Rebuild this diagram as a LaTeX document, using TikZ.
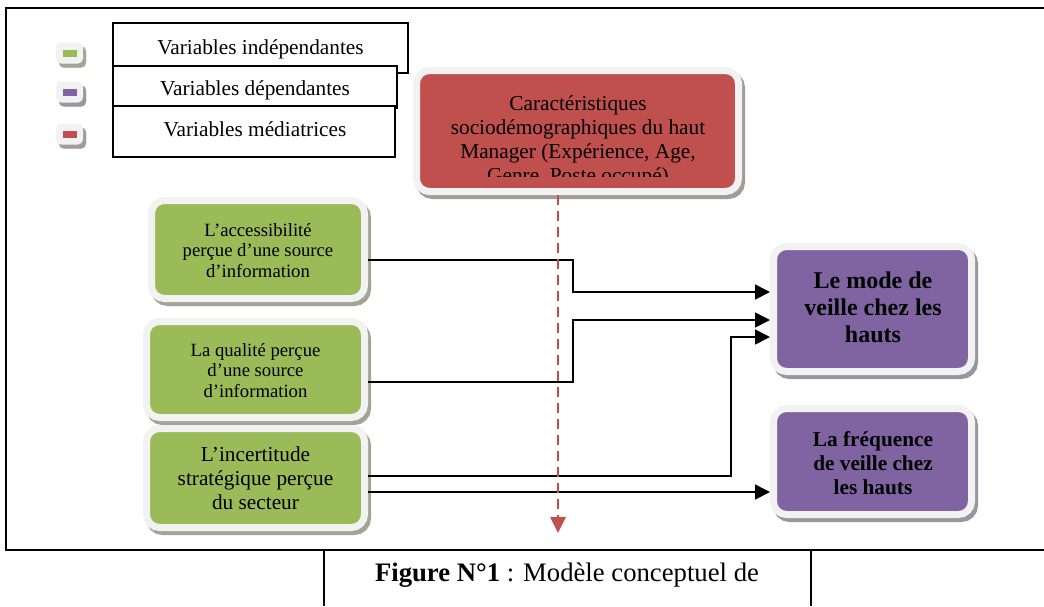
\documentclass[tikz,border=0pt]{standalone}
\usepackage{fontspec}
\setmainfont{Liberation Serif}
\usetikzlibrary{arrows.meta}
\definecolor{vgreen}{HTML}{9BBB59}
\definecolor{vpurple}{HTML}{8064A2}
\definecolor{vred}{HTML}{C0504D}
\definecolor{rim}{HTML}{F2F2F2}
\definecolor{shG}{HTML}{A2A595}
\definecolor{shP}{HTML}{9A96A0}
\definecolor{shR}{HTML}{A39A9A}
\tikzset{
  card/.style={draw=rim, line width=7pt, fill=#1, rounded corners=13pt, inner sep=0pt},
  shadowed/.style={preaction={draw=#1, fill=#1, transform canvas={shift={(3pt,-4pt)}}}},
  icon/.style={fill=rim, rounded corners=5pt, minimum width=27pt, minimum height=21pt, inner sep=0pt},
  iconc/.style={fill=#1, minimum width=14pt, minimum height=7pt, inner sep=0pt},
  legbox/.style={draw=black, line width=1.6pt, fill=white, inner sep=0pt},
  bigtxt/.style={font=\fontsize{21.3}{24}\selectfont, align=center, inner sep=0pt},
  captxt/.style={font=\fontsize{26.7}{30}\selectfont, align=center, inner sep=0pt},
  smalltxt/.style={font=\fontsize{18.7}{20.5}\selectfont, align=center, inner sep=0pt},
  boldtxt/.style={font=\bfseries\fontsize{24}{27}\selectfont, align=center, inner sep=0pt},
  boldmid/.style={font=\bfseries\fontsize{21.3}{24}\selectfont, align=center, inner sep=0pt},
  arr/.style={draw=black, line width=1.6pt, -{Triangle[length=15pt,width=15pt]}},
  redarr/.style={draw=vred, line width=2.6pt, dash pattern=on 10pt off 6pt, -{Triangle[length=16pt,width=15pt]}},
  frame/.style={draw=black, line width=2pt}
}
\begin{document}
\begin{tikzpicture}[x=1pt,y=-1pt]
\useasboundingbox (0,0) rectangle (1044,606);
% outer frame
\draw[frame] (1044,8) -- (6,8) -- (6,550) -- (1044,550);
% caption box
\draw[frame] (324,550) -- (324,606);
\draw[frame] (811,550) -- (811,606);
\node[captxt, anchor=base] (cap) at (567,581) {\textbf{Figure N°1} : Modèle conceptuel de};

% legend icons
\node[icon, shadowed=shG] (ic1) at (69.5,53) {};
\node[iconc=vgreen] (ic1c) at (ic1.center) {};
\node[icon, shadowed=shP] (ic2) at (69.5,92) {};
\node[iconc=vpurple] (ic2c) at (ic2.center) {};
\node[icon, shadowed=shR] (ic3) at (69.5,134) {};
\node[iconc=vred] (ic3c) at (ic3.center) {};

% legend boxes
\node[legbox, minimum width=295pt, minimum height=50pt] (l1) at (260.5,48) {};
\node[bigtxt, anchor=base] (l1t) at (260.5,54) {Variables indépendantes};
\node[legbox, minimum width=284pt, minimum height=42pt] (l2) at (255,87) {};
\node[bigtxt, anchor=base] (l2t) at (255,95) {Variables dépendantes};
\node[legbox, minimum width=282pt, minimum height=51pt] (l3) at (254,131.5) {};
\node[bigtxt, anchor=base] (l3t) at (255,136) {Variables médiatrices};

% red box
\node[card=vred, shadowed=shR, minimum width=322pt, minimum height=121pt] (red) at (577.5,131) {};
\begin{scope}
\clip (413,60) rectangle (745,176);
\node[bigtxt] (redt) at (578,141) {Caractéristiques\\sociodémographiques du haut\\Manager (Expérience, Age,\\Genre, Poste occupé)};
\end{scope}

% green boxes
\node[card=vgreen, shadowed=shG, minimum width=213pt, minimum height=98pt] (acc) at (258,249.5) {};
\node[smalltxt] (acct) at (258,250.5) {L’accessibilité\\perçue d’une source\\d’information};
\node[card=vgreen, shadowed=shG, minimum width=218pt, minimum height=96pt] (qual) at (255.5,369.5) {};
\node[smalltxt] (qualt) at (255.5,370.5) {La qualité perçue\\d’une source\\d’information};
\node[card=vgreen, shadowed=shG, minimum width=218pt, minimum height=99pt] (inc) at (255.5,478) {};
\node[bigtxt] (inct) at (255.5,478.5) {L’incertitude\\stratégique perçue\\du secteur};

% purple boxes
\node[card=vpurple, shadowed=shP, minimum width=198pt, minimum height=125pt] (mode) at (872.5,309) {};
\node[boldtxt] (modet) at (873,307.5) {Le mode de\\veille chez les\\hauts};
\node[card=vpurple, shadowed=shP, minimum width=198pt, minimum height=106pt] (freq) at (872.5,461.5) {};
\node[boldmid] (freqt) at (873,463.5) {La fréquence\\de veille chez\\les hauts};

% connectors
\draw[arr] ([yshift=-10.5pt]acc.east) -| (573,292) -- ([yshift=17pt]mode.west);
\draw[arr] ([yshift=-12.5pt]qual.east) -| (573,320) -- ([yshift=-11pt]mode.west);
\draw[arr] ([yshift=2pt]inc.east) -| (731,337) -- ([yshift=-28pt]mode.west);
\draw[arr] ([yshift=-14pt]inc.east) coordinate (s4) -- (freq.west |- s4);

% mediating dashed arrow
\coordinate (redend) at (558,533);
\draw[redarr] ([xshift=-19.5pt]red.south) -- (redend);
\end{tikzpicture}
\end{document}
